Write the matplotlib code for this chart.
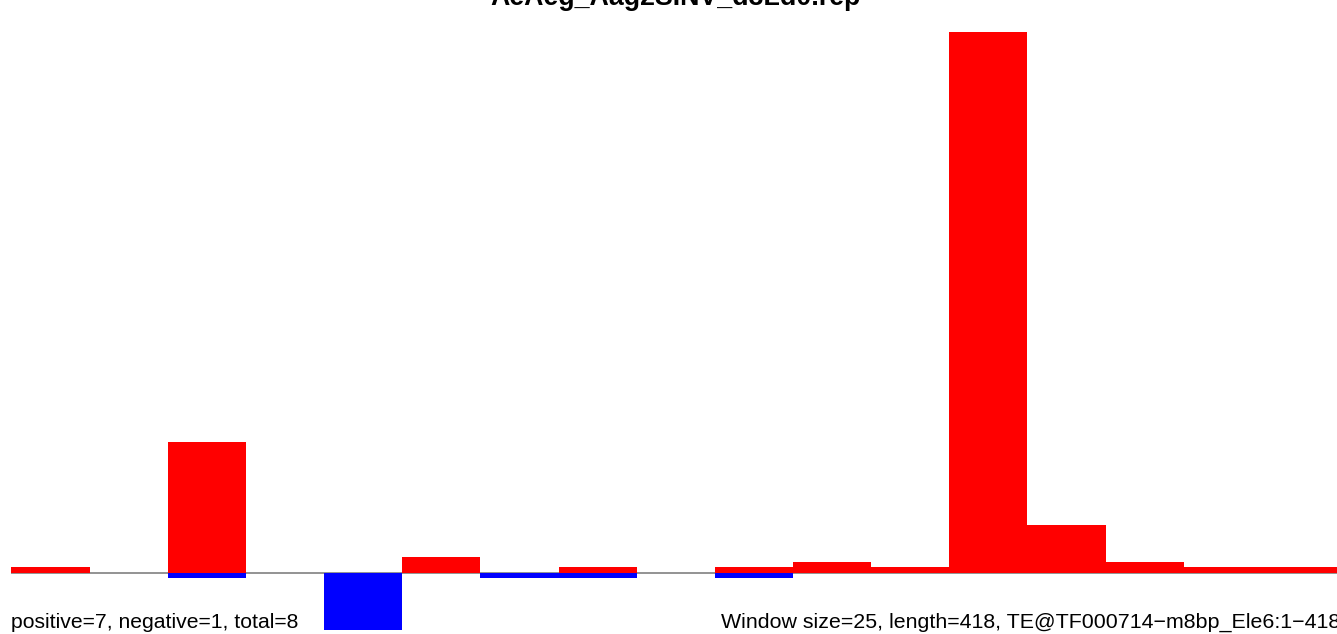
import matplotlib
matplotlib.use("Agg")
import matplotlib.pyplot as plt
import numpy as np

plt.rcParams['font.family'] = ['Liberation Sans', 'DejaVu Sans']

window = 25
bin_starts = [0, 25, 50, 75, 100, 125, 150, 175, 200, 225, 250, 275, 300, 325, 350, 375, 400]
positive = [1.0, 0, 24.2, 0, 0, 2.9, 0, 1.0, 0, 1.0, 1.95, 1.0, 100.0, 8.8, 1.95, 1.0, 1.0]
negative = [0, 0, 1.1, 0, 10.7, 0, 1.1, 1.1, 0, 1.1, 0, 0, 0, 0, 0, 0, 0]

title = "AeAeg_Aag2SINV_d3Ld0.rep"
left_note = "positive=7, negative=1, total=8"
right_note = "Window size=25, length=418, TE@TF000714\u2212m8bp_Ele6:1\u2212418"

W, H = 1337, 634
fig = plt.figure(figsize=(W / 100, H / 100), dpi=100)

x0_px, x1_px = 11.5, 1340
y_top_px, y_bot_px = 20, 634
ax = fig.add_axes([x0_px / W, (H - y_bot_px) / H, (x1_px - x0_px) / W, (y_bot_px - y_top_px) / H])
u = 5.4
base_px = 572.5
ax.set_xlim(0, 425)
ax.set_ylim(-(y_bot_px - base_px) / u, (base_px - y_top_px) / u)
ax.axis('off')

ax.axhline(0, color='#808080', lw=1.2, zorder=1)
ax.bar(bin_starts, positive, width=window, align='edge', color='#ff0000', linewidth=0, zorder=2)
ax.bar(bin_starts, [-v for v in negative], width=window, align='edge', color='#0000ff', linewidth=0, zorder=2)

fig.text((x0_px + x1_px) / 2 / W, (H - 5) / H, title, ha='center', va='baseline',
         fontsize=19.3, fontweight='bold')
fig.text(11 / W, (H - 628) / H, left_note, ha='left', va='baseline', fontsize=15.25)
fig.text(x1_px / W, (H - 628) / H, right_note, ha='right', va='baseline', fontsize=15.4)

fig.savefig("out.png", dpi=100)
